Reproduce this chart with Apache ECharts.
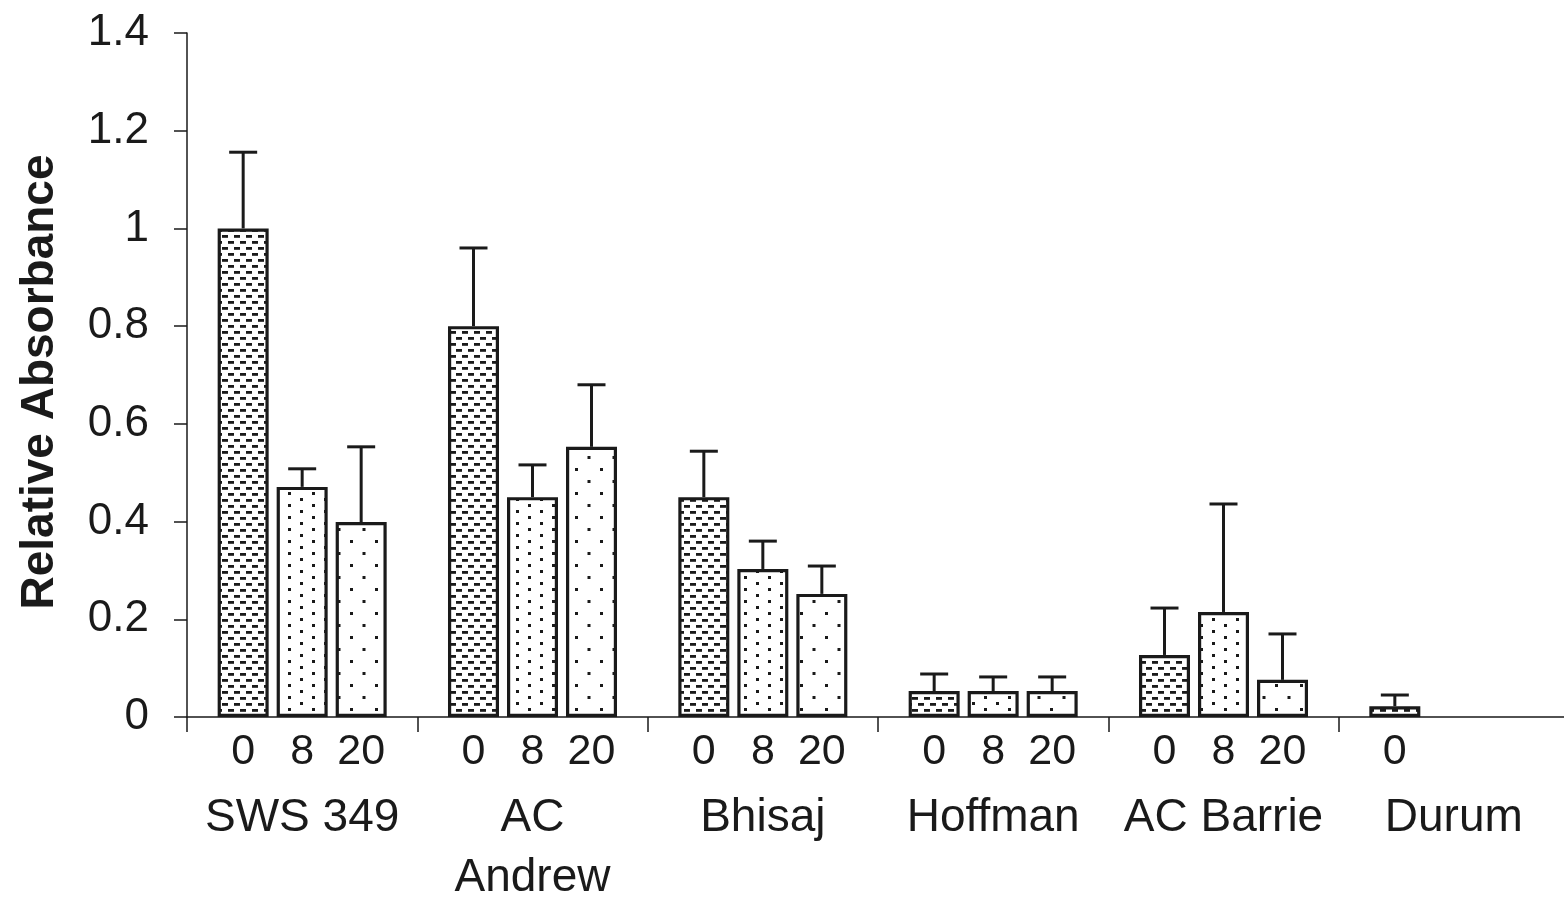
<!DOCTYPE html>
<html>
<head>
<meta charset="utf-8">
<script src="https://cdn.jsdelivr.net/npm/echarts@6/dist/echarts.min.js"></script>
<style>html,body{margin:0;padding:0;background:#fff}#c{width:1564px;height:902px}</style>
</head>
<body>
<div id="c"></div>
<script>
const categories = ['SWS 349', 'AC\nAndrew', 'Bhisaj', 'Hoffman', 'AC Barrie', 'Durum'];
const hours = ['0', '8', '20'];
const values0 = [1.0, 0.80, 0.45, 0.053, 0.127, 0.022];
const values8 = [0.471, 0.45, 0.303, 0.053, 0.215, null];
const values20 = [0.399, 0.553, 0.252, 0.053, 0.076, null];
const err0 = [0.156, 0.16, 0.094, 0.035, 0.096, 0.023];
const err8 = [0.037, 0.066, 0.057, 0.029, 0.221, null];
const err20 = [0.154, 0.127, 0.057, 0.029, 0.094, null];
const yTicks = [0, 0.2, 0.4, 0.6, 0.8, 1, 1.2, 1.4];

const FONT = 'Liberation Sans, Arial, sans-serif';
const INK = '#1a1a1a';

function makePattern(w, h, drawFn) {
  const c = document.createElement('canvas');
  c.width = w; c.height = h;
  const g = c.getContext('2d');
  g.fillStyle = '#fff'; g.fillRect(0, 0, w, h);
  g.fillStyle = INK;
  drawFn(g);
  return c;
}
const patDash = makePattern(12, 12, g => {
  g.fillRect(0, 1, 6, 2.8);
  g.fillRect(6, 7, 6, 2.8);
});
const patDots = makePattern(24, 12, g => {
  g.fillRect(0, 0, 3, 3);
  g.fillRect(12, 6, 3, 3);
});
const patSparse = makePattern(25, 24, g => {
  g.fillRect(0, 12, 3, 3);
  g.fillRect(12.5, 0, 3, 3);
});
const patterns = [patDash, patDots, patSparse];
const valueSets = [values0, values8, values20];
const errSets = [err0, err8, err20];

const BAR_W = 51;
const GAP = 8;

const series = [];
valueSets.forEach((vals, k) => {
  series.push({
    type: 'bar',
    name: hours[k],
    data: vals,
    barWidth: BAR_W,
    barGap: (GAP / BAR_W * 100).toFixed(1) + '%',
    itemStyle: {
      color: { image: patterns[k], repeat: 'repeat' },
      borderColor: INK,
      borderWidth: 3.2
    },
    label: {
      show: true,
      position: 'bottom',
      distance: 14,
      formatter: hours[k],
      fontSize: 43,
      fontFamily: FONT,
      color: INK
    },
    z: 3
  });
});
valueSets.forEach((vals, k) => {
  const data = [];
  vals.forEach((v, i) => {
    if (v != null && errSets[k][i] != null) data.push([i, v, v + errSets[k][i]]);
  });
  const offset = (k - 1) * (BAR_W + GAP);
  series.push({
    type: 'custom',
    data: data,
    z: 2,
    renderItem: function (params, api) {
      const p0 = api.coord([api.value(0), api.value(1)]);
      const p1 = api.coord([api.value(0), api.value(2)]);
      const x = p0[0] + offset;
      const st = { stroke: INK, lineWidth: 3 };
      return {
        type: 'group',
        children: [
          { type: 'line', shape: { x1: x, y1: p0[1], x2: x, y2: p1[1] }, style: st },
          { type: 'line', shape: { x1: x - 14, y1: p1[1], x2: x + 14, y2: p1[1] }, style: st }
        ]
      };
    }
  });
});

const chart = echarts.init(document.getElementById('c'), null, { renderer: 'canvas' });
chart.setOption({
  animation: false,
  backgroundColor: '#fff',
  grid: { left: 187, top: 33, width: 1382, height: 684, containLabel: false, outerBoundsMode: 'none' },
  xAxis: {
    type: 'category',
    data: categories,
    axisLine: { lineStyle: { color: INK, width: 1.5 } },
    axisTick: { show: true, length: 15, lineStyle: { color: INK, width: 1.5 } },
    axisLabel: {
      interval: 0,
      margin: 71,
      fontSize: 46,
      lineHeight: 60,
      fontFamily: FONT,
      color: INK
    }
  },
  yAxis: {
    type: 'value',
    min: 0,
    max: 1.4,
    interval: 0.2,
    name: 'Relative Absorbance',
    nameLocation: 'middle',
    nameGap: 124,
    nameTextStyle: { fontSize: 46, fontWeight: 'bold', fontFamily: FONT, color: INK, padding: [0, 14, 0, 0] },
    splitLine: { show: false },
    axisLine: { show: true, lineStyle: { color: INK, width: 1.5 } },
    axisTick: { show: true, length: 13, lineStyle: { color: INK, width: 1.5 } },
    axisLabel: {
      margin: 38,
      fontSize: 44,
      fontFamily: FONT,
      color: INK,
      formatter: v => String(yTicks.find(t => Math.abs(t - v) < 1e-9) ?? v)
    }
  },
  series: series
});
</script>
</body>
</html>
